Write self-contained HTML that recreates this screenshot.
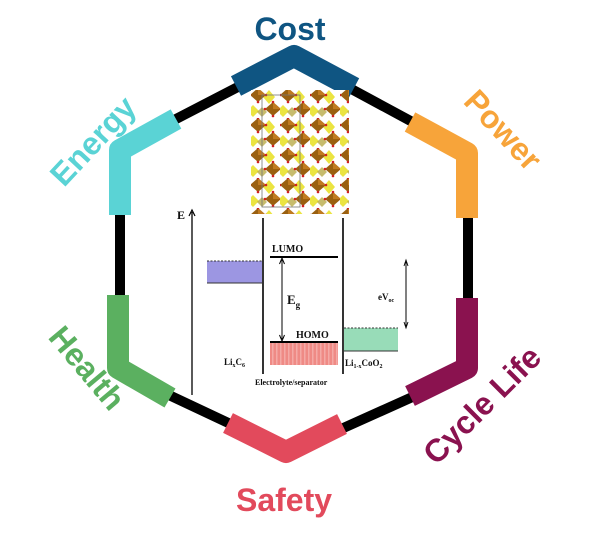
<!DOCTYPE html>
<html><head><meta charset="utf-8"><style>
html,body{margin:0;padding:0;background:#fff;width:600px;height:537px;overflow:hidden}
svg{display:block}
.lab{font-family:"Liberation Sans",sans-serif;font-weight:bold;font-size:32px}
.s{font-family:"Liberation Serif",serif;font-weight:bold;fill:#111}
</style></head><body>
<svg width="600" height="537" viewBox="0 0 600 537" xmlns="http://www.w3.org/2000/svg">
<defs>
<pattern id="cr" x="250" y="88" width="30" height="30" patternUnits="userSpaceOnUse">
<rect width="30" height="30" fill="#fff"/>
<path d="M19 2 L25 9 L19 16 L13 9Z" fill="#e8e020" opacity=".85"/>
<path d="M3 17 L9 23 L3 29 L-3 23Z" fill="#e8e020" opacity=".85"/>
<path d="M8 0 L16 7 L8 14 L0 7Z" fill="#9a6010"/>
<path d="M8 0 L16 7 L8 7Z" fill="#c07a20"/>
<path d="M23 14 L31 21 L23 28 L15 21Z" fill="#9a6010"/>
<path d="M23 14 L31 21 L23 21Z" fill="#c07a20"/>
<path d="M12 19 L17 24 L12 29 L7 24Z" fill="#b0a030" opacity=".7"/>
<g fill="#d02020"><circle cx="8" cy="0" r="1.3"/><circle cx="16" cy="7" r="1.3"/><circle cx="0" cy="7" r="1.3"/><circle cx="8" cy="14" r="1.3"/><circle cx="23" cy="14" r="1.3"/><circle cx="31" cy="21" r="1.3"/><circle cx="15" cy="21" r="1.3"/><circle cx="23" cy="28" r="1.3"/></g>
</pattern>
<pattern id="hat" width="4" height="4" patternUnits="userSpaceOnUse">
<rect width="4" height="4" fill="#ef8a85"/><rect width="1.5" height="4" fill="#f4aaa6"/>
</pattern>
</defs>

<polygon points="294,58 468,152 468,372 290,452 120,372 120,148" fill="none" stroke="#000" stroke-width="10" stroke-linejoin="round"/>

<g fill="none" stroke-width="22" stroke-linejoin="round" stroke-linecap="butt">
<polyline points="236,86 294,56 354,88" stroke="#0f5582"/>
<polyline points="176,119 120,150 120,215" stroke="#5ad3d5"/>
<polyline points="410,122 467,153 467,218" stroke="#f7a43a"/>
<polyline points="118,295 118,368 170,398" stroke="#5bb060"/>
<polyline points="228,423 286,452 342,424" stroke="#e24a5c"/>
<polyline points="467,298 467,368 410,396" stroke="#8a124f"/>
</g>

<text class="lab" x="290" y="40" text-anchor="middle" fill="#0f5582" font-size="34">Cost</text>
<text class="lab" x="284" y="511" text-anchor="middle" fill="#e24a5c">Safety</text>
<text class="lab" transform="translate(93,141) rotate(-47)" text-anchor="middle" dy="11" fill="#5ad3d5">Energy</text>
<text class="lab" transform="translate(503,130) rotate(47)" text-anchor="middle" dy="11" fill="#f7a43a">Power</text>
<text class="lab" transform="translate(87,368) rotate(50)" text-anchor="middle" dy="11" fill="#5bb060">Health</text>
<text class="lab" transform="translate(482,405) rotate(-45)" text-anchor="middle" dy="11" fill="#8a124f">Cycle Life</text>

<rect x="251" y="90" width="98" height="124" fill="url(#cr)"/>
<rect x="262" y="95" width="38" height="112" fill="none" stroke="#777" stroke-width="0.8"/>

<g stroke="#000" fill="none">
<line x1="192" y1="395" x2="192" y2="212" stroke-width="1.3"/>
<path d="M189 216 L192 210 L195 216" stroke-width="1.2"/>
<line x1="263" y1="218" x2="263" y2="374" stroke-width="1.6"/>
<line x1="343" y1="218" x2="343" y2="374" stroke-width="1.6"/>
</g>
<text class="s" x="177" y="219" font-size="12">E</text>

<rect x="207" y="261" width="55" height="22" fill="#9c96e2"/>
<line x1="207" y1="261" x2="262" y2="261" stroke="#333" stroke-dasharray="2,1.5"/>
<line x1="207" y1="283" x2="262" y2="283" stroke="#333" stroke-width="1"/>

<line x1="270" y1="257" x2="338" y2="257" stroke="#000" stroke-width="2"/>
<text class="s" x="272" y="252" font-size="10">LUMO</text>

<line x1="282" y1="260" x2="282" y2="339" stroke="#000" stroke-width="1"/>
<path d="M279.5 264 L282 258 L284.5 264" fill="none" stroke="#000"/>
<path d="M279.5 335 L282 341 L284.5 335" fill="none" stroke="#000"/>
<text class="s" x="287" y="304" font-size="13">E<tspan font-size="9" dy="4">g</tspan></text>

<text class="s" x="296" y="338" font-size="10">HOMO</text>
<rect x="270" y="343" width="68" height="22" fill="url(#hat)"/>
<line x1="270" y1="342" x2="338" y2="342" stroke="#000" stroke-width="2"/>

<rect x="344" y="328" width="54" height="23" fill="#98dcb8"/>
<line x1="344" y1="328" x2="398" y2="328" stroke="#333" stroke-dasharray="2,1.5"/>
<line x1="344" y1="351" x2="398" y2="351" stroke="#333" stroke-width="1"/>

<line x1="406" y1="262" x2="406" y2="326" stroke="#000" stroke-width="1"/>
<path d="M404 266 L406 260 L408 266" fill="none" stroke="#000" stroke-width=".9"/>
<path d="M404 322 L406 328 L408 322" fill="none" stroke="#000" stroke-width=".9"/>
<text class="s" x="378" y="300" font-size="9">eV<tspan font-size="6" dy="2">oc</tspan></text>

<text class="s" x="224" y="365" font-size="9">Li<tspan font-size="6" dy="2">x</tspan><tspan dy="-2">C</tspan><tspan font-size="6" dy="2">6</tspan></text>
<text class="s" x="345" y="366" font-size="9">Li<tspan font-size="6" dy="2">1-x</tspan><tspan dy="-2">CoO</tspan><tspan font-size="6" dy="2">2</tspan></text>
<text class="s" x="255" y="385" font-size="8">Electrolyte/separator</text>
</svg>
</body></html>
